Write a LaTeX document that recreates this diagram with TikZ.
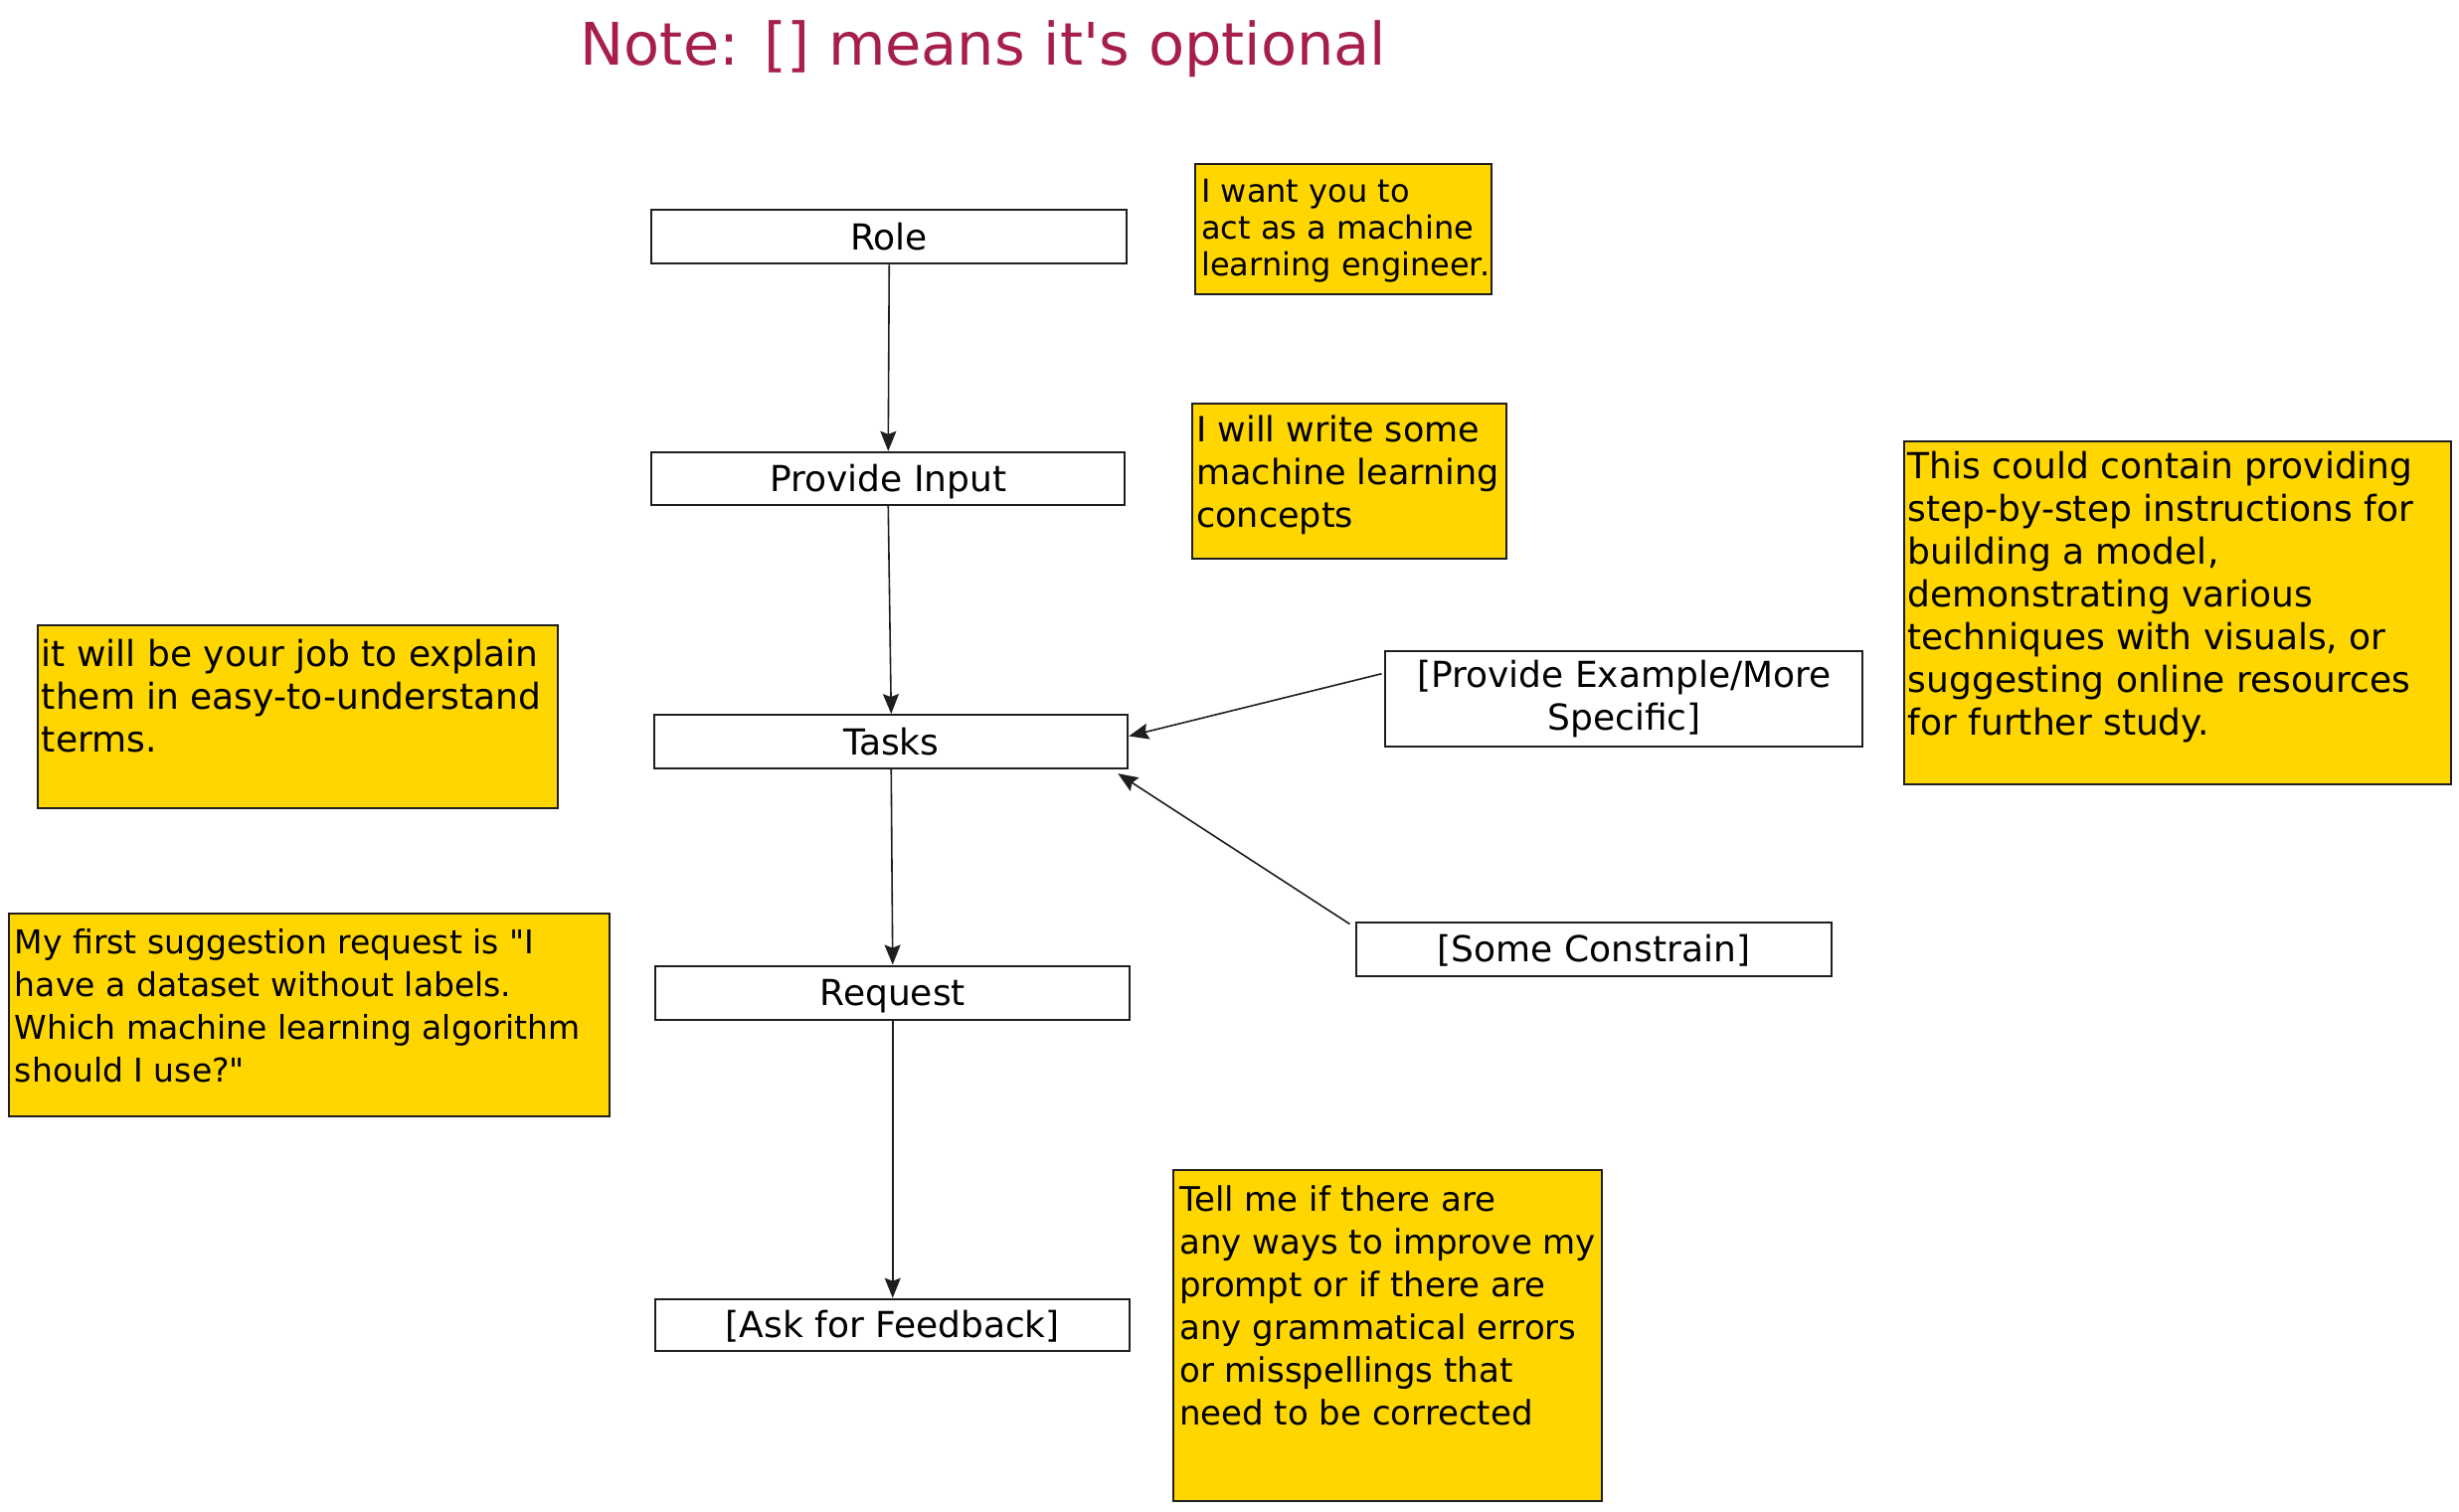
\documentclass[tikz,border=0pt]{standalone}
\usepackage{fontspec}
\setmainfont{DejaVu Sans}[Ligatures=TeXOff]
\usetikzlibrary{arrows.meta,calc}
\definecolor{stickyfill}{RGB}{255,214,0}
\definecolor{notecol}{RGB}{166,30,77}
\definecolor{ink}{RGB}{30,30,30}
\begin{document}
\begin{tikzpicture}[x=0.9975pt,y=-0.9975pt,
  flowbox/.style={draw=ink, line width=2pt, fill=white, inner sep=0pt,
    align=center, font=\fontsize{36}{43}\selectfont},
  onebox/.style={flowbox, text height=28pt, text depth=2pt},
  sticky/.style={draw=ink, line width=2pt, fill=stickyfill, inner sep=0pt},
  stickytext/.style={anchor=north west, inner sep=0pt, align=left,
    font=\fontsize{36}{43}\selectfont},
  conn/.style={draw=ink, line width=1.6pt, -{Stealth[length=20pt,width=16pt,inset=3pt]}}]
\useasboundingbox (0,0) rectangle (2479.2,1524.8);
\fill[white] (0,0) rectangle (2479.2,1524.8);

% title
\node[font=\fontsize{59}{70}\selectfont, text=notecol, anchor=base west, inner sep=0pt]
  (title) at (585,66) {Note: [] means it's optional};

% flow boxes
\node[onebox, minimum width=478pt, minimum height=54pt] (role) at (896.5,239) {Role};
\node[onebox, minimum width=476pt, minimum height=53pt] (pin) at (895.5,482.5) {Provide Input};
\node[onebox, minimum width=476pt, minimum height=54pt] (tasks) at (898.5,748) {Tasks};
\node[onebox, minimum width=477pt, minimum height=54pt] (req) at (900,1001) {Request};
\node[onebox, minimum width=477pt, minimum height=52pt] (fb) at (900,1336) {[Ask for Feedback]};
\node[flowbox, minimum width=480pt, minimum height=96pt] (pe) at (1637.5,705) {[Provide Example/More\\Specific]};
\node[onebox, minimum width=477pt, minimum height=54pt] (sc) at (1607,957) {[Some Constrain]};

% sticky notes
\node[sticky, minimum width=298pt, minimum height=131pt] (y1) at (1354.5,231.5) {};
\node[sticky, minimum width=316pt, minimum height=156pt] (y2) at (1360.5,485) {};
\node[sticky, minimum width=550pt, minimum height=345pt] (y3) at (2195,618) {};
\node[sticky, minimum width=523pt, minimum height=184pt] (y4) at (300,723) {};
\node[sticky, minimum width=604pt, minimum height=204pt] (y5) at (311.5,1024) {};
\node[sticky, minimum width=431pt, minimum height=333pt] (y6) at (1399,1347) {};

\node[stickytext, font=\fontsize{32}{37}\selectfont] (t1) at ([shift={(7,16)}]y1.north west)
  {I want you to\\act as a machine\\learning engineer.};
\node[stickytext, font=\fontsize{35}{43}\selectfont] (t2) at ([shift={(5,13)}]y2.north west)
  {I will write some\\machine learning\\concepts};
\node[stickytext] (t3) at ([shift={(5,11)}]y3.north west)
  {This could contain providing\\step-by-step instructions for\\building a model,\\demonstrating various\\techniques with visuals, or\\suggesting online resources\\for further study.};
\node[stickytext] (t4) at ([shift={(5,15)}]y4.north west)
  {it will be your job to explain\\them in easy-to-understand\\terms.};
\node[stickytext, font=\fontsize{33}{43}\selectfont] (t5) at ([shift={(7,16)}]y5.north west)
  {My first suggestion request is "I\\have a dataset without labels.\\Which machine learning algorithm\\should I use?"};
\node[stickytext, font=\fontsize{34}{43}\selectfont] (t6) at ([shift={(7,16)}]y6.north west)
  {Tell me if there are\\any ways to improve my\\prompt or if there are\\any grammatical errors\\or misspellings that\\need to be corrected};

% connectors
\draw[conn] (role.south) -- (pin.north);
\draw[conn] (pin.south) -- (tasks.north);
\draw[conn] (tasks.south) -- (req.north);
\draw[conn] (req.south) -- (fb.north);
\draw[conn] ([shift={(-3,0)}]$(pe.north west)!0.24!(pe.south west)$) -- ($(tasks.north east)!0.40!(tasks.south east)$);
\draw[conn] ([shift={(-6,3)}]sc.north west) -- ([shift={(-11,4)}]tasks.south east);
\end{tikzpicture}
\end{document}
